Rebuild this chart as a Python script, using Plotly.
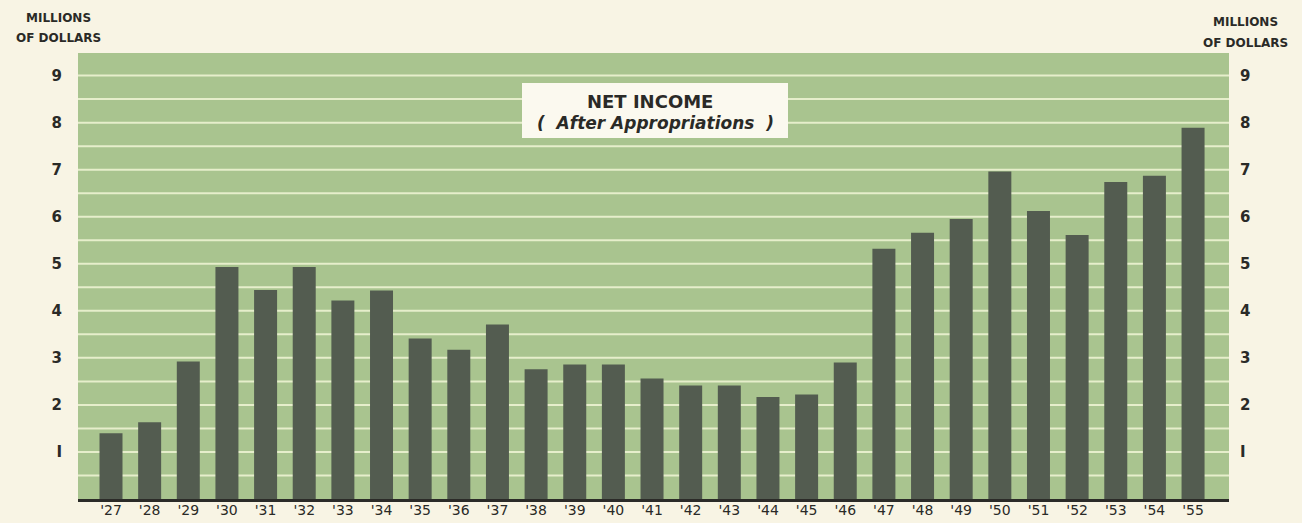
import plotly.graph_objects as go

years = ["'27", "'28", "'29", "'30", "'31", "'32", "'33", "'34", "'35", "'36",
         "'37", "'38", "'39", "'40", "'41", "'42", "'43", "'44", "'45", "'46",
         "'47", "'48", "'49", "'50", "'51", "'52", "'53", "'54", "'55"]
net_income = [1.40, 1.63, 2.92, 4.93, 4.44, 4.93, 4.22, 4.43, 3.41, 3.17,
              3.71, 2.76, 2.86, 2.86, 2.56, 2.41, 2.41, 2.17, 2.22, 2.90,
              5.32, 5.66, 5.95, 6.96, 6.12, 5.61, 6.74, 6.87, 7.89]
y_ticks = [1, 2, 3, 4, 5, 6, 7, 8, 9]
y_tick_text = ["I", "2", "3", "4", "5", "6", "7", "8", "9"]

W, H = 1302, 523
L, R, T, B = 78, 73, 53, 24
YMAX = 9.48

PAPER = "#f8f4e4"
PLOT = "#a9c48f"
GRID = "#e6eecb"
BAR = "#535c50"
TXT = "#2a2a27"
FONT = "DejaVu Sans"

PW = W - L - R
PH = H - T - B


def px_x(x):
    return (x - L) / PW


def px_y(y):
    return (H - B - y) / PH


fig = go.Figure()
fig.add_trace(go.Bar(x=years, y=net_income, marker=dict(color=BAR, line=dict(width=0)),
                     showlegend=False, hoverinfo="x+y"))

bold_ticks = ["<b>%s</b>" % t for t in y_tick_text]

fig.update_layout(
    width=W, height=H,
    margin=dict(l=L, r=R, t=T, b=B, autoexpand=False),
    paper_bgcolor=PAPER, plot_bgcolor=PLOT,
    bargap=0.405,
    font=dict(family=FONT, color=TXT),
    xaxis=dict(
        type="category", range=[-0.854, 28.93], automargin=False,
        showgrid=False, showline=True, linewidth=3, linecolor="#2b2b28",
        ticks="", tickfont=dict(size=14, family=FONT, color=TXT),
        ticklabelstandoff=-4, fixedrange=True,
    ),
    yaxis=dict(
        range=[0, YMAX], tickvals=y_ticks, ticktext=bold_ticks, automargin=False,
        showgrid=False, zeroline=False, showline=False,
        tickfont=dict(size=15, family=FONT, color=TXT),
        ticklabelstandoff=15, fixedrange=True,
    ),
    yaxis2=dict(
        range=[0, YMAX], tickvals=y_ticks, ticktext=bold_ticks, automargin=False,
        overlaying="y", side="right", showgrid=False, zeroline=False,
        showline=False, tickfont=dict(size=15, family=FONT, color=TXT),
        ticklabelstandoff=10, fixedrange=True,
    ),
)

# invisible trace to activate right axis
fig.add_trace(go.Scatter(x=[years[0]], y=[0], yaxis="y2", mode="markers",
                         marker=dict(opacity=0), showlegend=False, hoverinfo="skip"))

# half-unit grid lines drawn below bars
half_steps = [i * 0.5 for i in range(1, 19)]
for v in half_steps:
    fig.add_shape(type="line", xref="paper", yref="y", x0=0, x1=1, y0=v, y1=v,
                  line=dict(color=GRID, width=2), layer="below")

# title box
fig.add_shape(type="rect", xref="paper", yref="paper",
              x0=px_x(522), x1=px_x(788), y0=px_y(138), y1=px_y(83),
              fillcolor="#fbf9ef", line=dict(width=0), layer="above")
fig.add_annotation(xref="paper", yref="paper", x=px_x(650), y=px_y(101),
                   xanchor="center", yanchor="middle",
                   text="<b>NET INCOME</b>", showarrow=False,
                   font=dict(size=18, family=FONT, color=TXT))
fig.add_annotation(xref="paper", yref="paper", x=px_x(655), y=px_y(123),
                   xanchor="center", yanchor="middle",
                   text="<b><i>(  After Appropriations  )</i></b>", showarrow=False,
                   font=dict(size=17, family=FONT, color=TXT))

# axis unit labels
for xpx, y1, y2 in [(58, 18, 38), (1245, 22, 43)]:
    fig.add_annotation(xref="paper", yref="paper", x=px_x(xpx), y=px_y(y1),
                       xanchor="center", yanchor="middle", text="<b>MILLIONS</b>",
                       showarrow=False, font=dict(size=12, family=FONT, color=TXT))
    fig.add_annotation(xref="paper", yref="paper", x=px_x(xpx), y=px_y(y2),
                       xanchor="center", yanchor="middle", text="<b>OF DOLLARS</b>",
                       showarrow=False, font=dict(size=12, family=FONT, color=TXT))

fig.write_html("out.html")
